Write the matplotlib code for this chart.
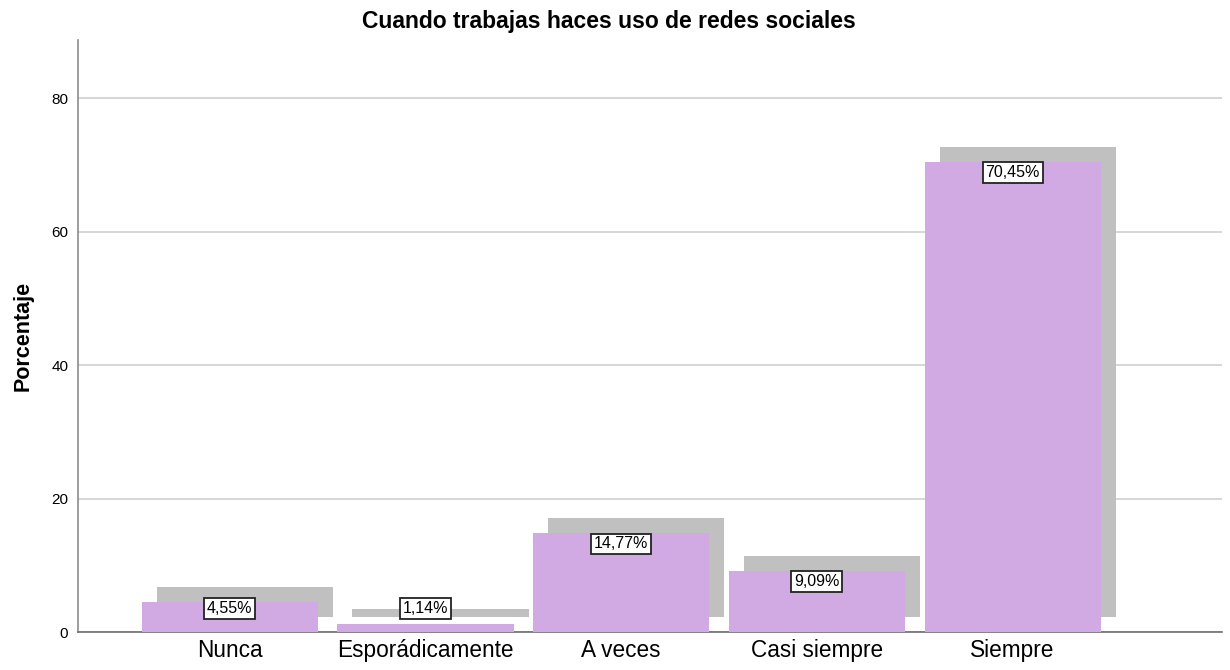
import matplotlib
matplotlib.use("Agg")
import matplotlib.pyplot as plt
from matplotlib.transforms import offset_copy

plt.rcParams['font.family'] = ['Liberation Sans', 'DejaVu Sans']

categories = ['Nunca', 'Esporádicamente', 'A veces', 'Casi siempre', 'Siempre']
percentages = [4.55, 1.14, 14.77, 9.09, 70.45]
labels = ['4,55%', '1,14%', '14,77%', '9,09%', '70,45%']

bar_color = '#D1A9E3'
shadow_color = '#C0C0C0'

fig = plt.figure(figsize=(12.3, 6.7), dpi=100)
ax = fig.add_axes([0.0634, 0.0567, 0.9301, 0.8833])

x = list(range(len(categories)))

# shadow bars: same bars shifted 15 px up and right
shadow_tr = offset_copy(ax.transData, fig=fig, x=15, y=15, units='dots')
ax.bar(x, percentages, width=0.9, color=shadow_color, transform=shadow_tr, zorder=2)
ax.bar(x, percentages, width=0.9, color=bar_color, zorder=3)

# value labels, boxed, hanging from the bar top (kept above the tiny bar)
for xi, v, lab in zip(x, percentages, labels):
    ax.annotate(lab, (xi, max(v, 5.1)), xytext=(0, -3), textcoords='offset pixels',
                ha='center', va='top', fontsize=11.5, zorder=5,
                bbox=dict(boxstyle='square,pad=0.18', fc='white', ec='#222222', lw=1.3))

ax.set_xlim(-0.776, 5.07)
ax.set_ylim(0, 88.7)
ax.set_yticks([0, 20, 40, 60, 80])
ax.set_xticks(x)
ax.set_xticklabels(categories, fontsize=16.3)
ax.tick_params(axis='both', length=0)
ax.tick_params(axis='y', labelsize=11, pad=7)
ax.tick_params(axis='x', pad=5)
ax.yaxis.grid(True, color='#CFCFCF', lw=1.2, zorder=0)
ax.set_axisbelow(True)

for s in ['top', 'right']:
    ax.spines[s].set_visible(False)
ax.spines['left'].set_color('#8C8C8C')
ax.spines['bottom'].set_color('#6E6E6E')
ax.spines['left'].set_linewidth(1.2)
ax.spines['bottom'].set_linewidth(1.2)

ax.set_ylabel('Porcentaje', fontsize=15.5, fontweight='bold', labelpad=13)
fig.text(0.495, 0.968, 'Cuando trabajas haces uso de redes sociales', ha='center', va='center',
         fontsize=16.5, fontweight='bold')

fig.savefig('out.png', dpi=100)
